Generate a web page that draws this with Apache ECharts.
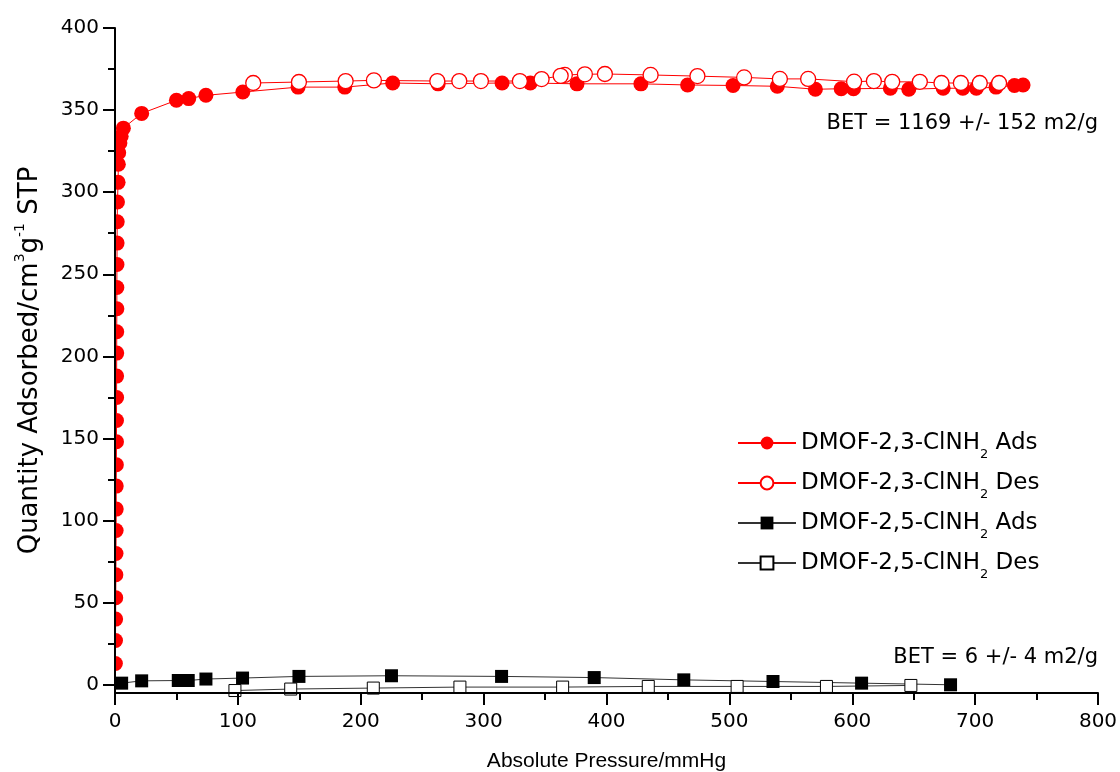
<!DOCTYPE html>
<html>
<head>
<meta charset="utf-8">
<script src="https://cdn.jsdelivr.net/npm/echarts@6/dist/echarts.min.js"></script>
<style>html,body{margin:0;padding:0;background:#fff}#c{width:1120px;height:772px}</style>
</head>
<body>
<div id="c"></div>
<script>
// ---- data ----
var seriesNames = ['DMOF-2,3-ClNH2 Ads', 'DMOF-2,3-ClNH2 Des', 'DMOF-2,5-ClNH2 Ads', 'DMOF-2,5-ClNH2 Des'];

var red23AdsP = [0.3,0.4,0.5,0.6,0.7,0.8,0.9,1.0,1.0,1.1,1.2,1.2,1.3,1.3,1.4,1.4,1.5,1.5,1.6,1.7,1.8,2.0,
  2.5,2.7,3.0,4.0,5.0,6.8,21.7,50,60,74,104,149,187,226,263,315,338,376,428,466,503,539,570,591,601,631,646,674,690,701,717,732,739];
var red23AdsQ = [13,27,40,53,67,80,94,107,121,134,148,161,175,188,202,215,229,242,256,269,282,294,
  306,317,324,330,334,339,348,356,357,359,361,364,364,366.5,366,366.5,366.5,366,366,365.3,365,364.5,362.7,363,363,363.3,362.7,363.3,363.3,363.3,364,365,365.3];

var red23DesP = [719.5,703.8,688.4,672.6,655,632.5,617.6,601.5,564.1,541.1,512,474,435.9,398.7,382.4,366.1,362.7,347.2,329.5,297.8,280.2,262.3,210.7,187.7,149.7,112.5];
var red23DesQ = [366.5,366.5,366.5,366.5,367.2,367.2,367.7,367.3,369,369,369.9,370.7,371.4,372,371.8,371.4,370.9,368.9,367.7,367.7,367.7,367.7,368.1,367.7,367.1,366.5];

var blk25AdsP = [5.4,21.7,51.5,59.6,74,103.8,149.7,225,314.6,390,462.9,535.5,607.6,680];
var blk25AdsQ = [1.0,2.4,2.6,2.6,3.5,4.1,5.1,5.5,5.1,4.4,3.0,2.0,1.0,0];

var blk25DesP = [647.7,579,506.3,434,364.3,280.7,210.2,143,97.6];
var blk25DesQ = [-0.4,-1.0,-1.0,-1.0,-1.4,-1.4,-2.0,-2.6,-3.5];

var yMajorTicks = [0,50,100,150,200,250,300,350,400];
var yMinorTicks = [25,75,125,175,225,275,325,375];
var annotations = ['BET = 1169 +/- 152 m2/g', 'BET = 6 +/- 4 m2/g'];
var xTitle = 'Absolute Pressure/mmHg';

function pairs(xs, ys) { return xs.map(function (x, i) { return [x, ys[i]]; }); }

var FONT = '"DejaVu Sans", sans-serif';
var FONT2 = '"Liberation Sans", Arial, sans-serif';
var chart = echarts.init(document.getElementById('c'), null, {renderer: 'canvas'});

var axisLineStyle = {color: '#000', width: 2};

var option = {
  animation: false,
  backgroundColor: '#fff',
  grid: {left: 115, right: 22, top: 28, bottom: 79, containLabel: false, outerBoundsMode: 'none'},
  xAxis: {
    type: 'value', min: 0, max: 800, interval: 100, z: 10,
    name: xTitle, nameLocation: 'middle', nameGap: 58,
    nameTextStyle: {fontSize: 21, color: '#000', fontFamily: FONT2},
    axisLine: {show: true, onZero: false, lineStyle: axisLineStyle},
    axisTick: {show: true, length: 12, lineStyle: axisLineStyle},
    minorTick: {show: true, splitNumber: 2, length: 7, lineStyle: axisLineStyle},
    axisLabel: {fontSize: 20, color: '#000', fontFamily: FONT, margin: 19},
    splitLine: {show: false}, minorSplitLine: {show: false}
  },
  yAxis: [{
    type: 'value', min: -5, max: 400, z: 10, position: 'left',
    name: '{m|Quantity Adsorbed/cm}{p|3}{m|g}{p|-1}{m| STP}',
    nameLocation: 'middle', nameGap: 67,
    nameTextStyle: {
      fontSize: 26, color: '#000', fontFamily: FONT, lineHeight: 36,
      rich: {
        m: {fontSize: 26, color: '#000', fontFamily: FONT, lineHeight: 36},
        p: {fontSize: 14, color: '#000', fontFamily: FONT, lineHeight: 14, verticalAlign: 'top', padding: [1, 0, 0, 0]}
      }
    },
    axisLine: {show: true, onZero: false, lineStyle: axisLineStyle},
    axisTick: {show: true, length: 12, lineStyle: axisLineStyle, customValues: yMajorTicks},
    axisLabel: {fontSize: 20, color: '#000', fontFamily: FONT, margin: 16, customValues: yMajorTicks},
    splitLine: {show: false}
  }, {
    type: 'value', min: -5, max: 400, z: 10, position: 'left',
    axisLine: {show: false},
    axisTick: {show: true, length: 7, lineStyle: axisLineStyle, customValues: yMinorTicks},
    axisLabel: {show: false},
    splitLine: {show: false}
  }],
  legend: {
    orient: 'vertical', left: 732, top: 420, itemWidth: 58, itemHeight: 16, itemGap: 4,
    data: seriesNames,
    formatter: function (n) {
      return '{m|' + n.replace('NH2', 'NH}{s|2}{m|') + '}';
    },
    textStyle: {
      fontSize: 23, color: '#000', fontFamily: FONT,
      rich: {
        m: {fontSize: 23, color: '#000', fontFamily: FONT, lineHeight: 36},
        s: {fontSize: 13, color: '#000', fontFamily: FONT, lineHeight: 13, verticalAlign: 'top', padding: [23, 0, 0, 0]}
      }
    }
  },
  graphic: [
    {type: 'rect', z: 5, shape: {x: 100, y: 10, width: 14, height: 700}, style: {fill: '#fff'}},
    {type: 'text', z: 20, x: 1098, y: 124, style: {text: annotations[0], font: '21px ' + FONT, fill: '#000', textAlign: 'right', textVerticalAlign: 'middle'}},
    {type: 'text', z: 20, x: 1098, y: 658, style: {text: annotations[1], font: '21px ' + FONT, fill: '#000', textAlign: 'right', textVerticalAlign: 'middle'}}
  ],
  series: [
    {
      name: seriesNames[2], type: 'line', data: pairs(blk25AdsP, blk25AdsQ),
      symbol: 'rect', symbolSize: 13, showAllSymbol: true,
      itemStyle: {color: '#000'}, lineStyle: {color: '#333', width: 1}, z: 2
    },
    {
      name: seriesNames[3], type: 'line', data: pairs(blk25DesP, blk25DesQ),
      symbol: 'rect', symbolSize: 12, showAllSymbol: true,
      itemStyle: {color: '#fff', borderColor: '#000', borderWidth: 1}, lineStyle: {color: '#333', width: 1}, z: 2
    },
    {
      name: seriesNames[0], type: 'line', data: pairs(red23AdsP, red23AdsQ),
      symbol: 'circle', symbolSize: 15, showAllSymbol: true,
      itemStyle: {color: '#ff0000'}, lineStyle: {color: '#ff0000', width: 1}, z: 3
    },
    {
      name: seriesNames[1], type: 'line', data: pairs(red23DesP, red23DesQ),
      symbol: 'circle', symbolSize: 15, showAllSymbol: true,
      itemStyle: {color: '#fff', borderColor: '#ff0000', borderWidth: 1.3}, lineStyle: {color: '#ff0000', width: 1}, z: 4
    }
  ]
};
chart.setOption(option);
</script>
</body>
</html>
